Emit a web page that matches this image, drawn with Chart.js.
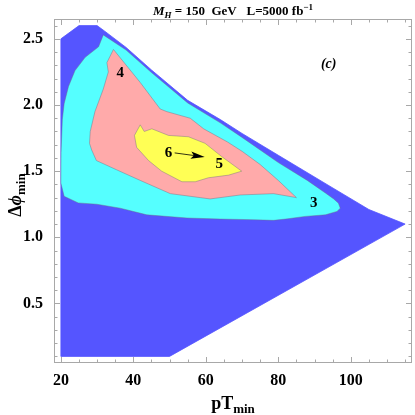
<!DOCTYPE html>
<html>
<head>
<meta charset="utf-8">
<script src="https://cdn.jsdelivr.net/npm/chart.js@4.4.0/dist/chart.umd.min.js"></script>
<style>
  body { margin: 0; background: #fff; }
</style>
</head>
<body>
<canvas id="plot" width="415" height="415"></canvas>
<script>
// axis ticks
const xTicks = [20, 40, 60, 80, 100];
const yTicks = [0.5, 1.0, 1.5, 2.0, 2.5];

// significance regions (pT_min, dphi_min) outlines
const blueX = [20, 20, 25, 30, 32, 38, 45, 55, 64, 70, 80, 94, 105, 115, 50, 20];
const blueY = [0.1, 2.5, 2.6, 2.6, 2.56, 2.435, 2.265, 2.035, 1.89, 1.785, 1.62, 1.39, 1.21, 1.1, 0.1, 0.1];

const cyanX = [31.7, 30.4, 26.7, 23.9, 22.1, 20.9, 20.4, 20.05, 20, 20.9, 24.8, 29.9, 36.4, 43.7, 54.8, 64, 73.2, 78.7, 82.6, 87.4, 93, 96.2, 97.1, 96.6, 95.3, 93, 88, 80, 70, 64, 55, 45, 38, 31.7];
const cyanY = [2.53, 2.44, 2.36, 2.26, 2.14, 2.01, 1.89, 1.64, 1.41, 1.31, 1.26, 1.25, 1.22, 1.17, 1.146, 1.138, 1.133, 1.128, 1.14, 1.158, 1.17, 1.196, 1.22, 1.258, 1.29, 1.335, 1.43, 1.565, 1.755, 1.865, 2.015, 2.245, 2.415, 2.53];

const pinkX = [34.5, 41.9, 47.4, 49.2, 55.7, 59.4, 66, 70, 75, 80, 85, 78.7, 69.5, 61.2, 50.2, 41.9, 35.4, 29.8, 28.5, 27.9, 28.1, 29.4, 31.7, 33.1, 32.7, 34.5];
const pinkY = [2.42, 2.17, 1.97, 1.95, 1.90, 1.82, 1.72, 1.65, 1.55, 1.43, 1.30, 1.33, 1.32, 1.29, 1.33, 1.43, 1.51, 1.58, 1.66, 1.71, 1.80, 1.95, 2.12, 2.25, 2.32, 2.42];

const yellowX = [40.3, 41.9, 43, 45.1, 49.7, 55.2, 59.8, 64.4, 69.9, 66.3, 60.7, 57.1, 53.4, 47.8, 44.2, 40.9, 40.3];
const yellowY = [1.77, 1.85, 1.80, 1.82, 1.77, 1.76, 1.71, 1.61, 1.50, 1.47, 1.45, 1.42, 1.42, 1.50, 1.58, 1.68, 1.77];

// contour labels
const labelText = ['3', '4', '5', '6'];
const labelX = [89.8, 36.4, 63.7, 49.7];
const labelY = [1.26, 2.24, 1.554, 1.635];
const arrowX = [51.4, 59.7];
const arrowY = [1.638, 1.607];

const pts = (xs, ys) => xs.map((x, i) => ({ x: x, y: ys[i] }));
const edge = 'rgba(110,110,130,0.55)';
const serif = '"Liberation Serif", "DejaVu Serif", serif';

function region(xs, ys, color, line, order) {
  return {
    data: pts(xs, ys),
    showLine: true,
    fill: 'shape',
    backgroundColor: color,
    borderColor: line,
    borderWidth: 0.8,
    pointRadius: 0,
    tension: 0,
    order: order
  };
}

// sub/superscript text helper
function drawRuns(ctx, runs, x, y, align) {
  let total = 0;
  runs.forEach(r => { ctx.font = r.font; total += ctx.measureText(r.t).width; });
  let cx = align === 'center' ? x - total / 2 : x;
  ctx.textAlign = 'left';
  ctx.textBaseline = 'alphabetic';
  runs.forEach(r => {
    ctx.font = r.font;
    ctx.fillText(r.t, cx, y + (r.dy || 0));
    cx += ctx.measureText(r.t).width;
  });
}

const decor = {
  id: 'decor',
  afterDatasetsDraw(chart) {
    const ctx = chart.ctx;
    const a = chart.chartArea;
    const xs = chart.scales.x, ys = chart.scales.y;
    ctx.save();

    // frame with inward ticks
    ctx.strokeStyle = '#a8a8a8';
    ctx.lineWidth = 1;
    ctx.strokeRect(a.left + 0.5, a.top + 0.5, a.right - a.left - 1, a.bottom - a.top - 1);
    ctx.beginPath();
    for (let v = 20; v <= 115; v += 5) {
      const p = Math.round(xs.getPixelForValue(v)) + 0.5;
      const len = xTicks.includes(v) ? 6 : 3.5;
      ctx.moveTo(p, a.bottom); ctx.lineTo(p, a.bottom - len);
      ctx.moveTo(p, a.top); ctx.lineTo(p, a.top + len);
    }
    for (let k = 1; k <= 26; k++) {
      const v = k / 10;
      const p = Math.round(ys.getPixelForValue(v)) + 0.5;
      const len = (k % 5 === 0) ? 6 : 3.5;
      ctx.moveTo(a.left, p); ctx.lineTo(a.left + len, p);
      ctx.moveTo(a.right, p); ctx.lineTo(a.right - len, p);
    }
    ctx.stroke();

    // contour labels
    ctx.fillStyle = '#000';
    ctx.font = 'bold 15px ' + serif;
    ctx.textAlign = 'center';
    ctx.textBaseline = 'middle';
    labelText.forEach((t, i) => {
      ctx.fillText(t, xs.getPixelForValue(labelX[i]), ys.getPixelForValue(labelY[i]));
    });
    ctx.font = 'italic bold 14px ' + serif;
    ctx.fillText('(c)', xs.getPixelForValue(93.9), ys.getPixelForValue(2.31));

    // arrow 6 -> 5
    const x0 = xs.getPixelForValue(arrowX[0]), y0 = ys.getPixelForValue(arrowY[0]);
    const x1 = xs.getPixelForValue(arrowX[1]), y1 = ys.getPixelForValue(arrowY[1]);
    const ang = Math.atan2(y1 - y0, x1 - x0);
    ctx.strokeStyle = '#000';
    ctx.lineWidth = 0.8;
    ctx.beginPath(); ctx.moveTo(x0, y0); ctx.lineTo(x1 - 10 * Math.cos(ang), y1 - 10 * Math.sin(ang)); ctx.stroke();
    ctx.translate(x1, y1); ctx.rotate(ang);
    ctx.beginPath(); ctx.moveTo(0, 0); ctx.lineTo(-14, -3.6); ctx.lineTo(-11, 0); ctx.lineTo(-14, 3.6); ctx.closePath(); ctx.fill();
    ctx.setTransform(1, 0, 0, 1, 0, 0);

    // title
    const cx = (a.left + a.right) / 2;
    drawRuns(ctx, [
      { t: 'M', font: 'italic bold 13px ' + serif },
      { t: 'H', font: 'italic bold 9px ' + serif, dy: 3 },
      { t: ' = 150  GeV   L=5000 fb', font: 'bold 13px ' + serif },
      { t: '\u22121', font: 'bold 9px ' + serif, dy: -5 }
    ], cx, 15, 'center');

    // x axis title
    drawRuns(ctx, [
      { t: 'pT', font: 'bold 18px ' + serif },
      { t: 'min', font: 'bold 13px ' + serif, dy: 4 }
    ], cx, 409, 'center');

    // y axis title
    ctx.translate(21, (a.top + a.bottom) / 2 + 4);
    ctx.rotate(-Math.PI / 2);
    drawRuns(ctx, [
      { t: '\u0394', font: 'bold 18px ' + serif },
      { t: '\u03d5', font: 'italic bold 18px ' + serif },
      { t: 'min', font: 'bold 13px ' + serif, dy: 4 }
    ], 0, 0, 'center');
    ctx.restore();
  }
};

new Chart(document.getElementById('plot').getContext('2d'), {
  type: 'scatter',
  data: {
    datasets: [
      region(blueX, blueY, '#5555ff', '#5555ff', 4),
      region(cyanX, cyanY, '#55ffff', edge, 3),
      region(pinkX, pinkY, '#ffaaaa', edge, 2),
      region(yellowX, yellowY, '#ffff55', edge, 1)
    ]
  },
  options: {
    responsive: false,
    animation: false,
    layout: { padding: { top: 19, right: 3, left: 0, bottom: 0 } },
    plugins: { legend: { display: false }, tooltip: { enabled: false }, title: { display: false } },
    scales: {
      x: {
        type: 'linear', min: 18.1, max: 116.9,
        grid: { display: false },
        border: { display: false },
        afterFit: s => { s.height = 52; },
        afterBuildTicks: s => { s.ticks = xTicks.map(v => ({ value: v })); },
        ticks: { color: '#000', padding: 0, font: { family: serif, size: 16, weight: 'bold' } }
      },
      y: {
        type: 'linear', min: 0.05, max: 2.65,
        grid: { display: false },
        border: { display: false },
        afterFit: s => { s.width = 54; },
        afterBuildTicks: s => { s.ticks = yTicks.map(v => ({ value: v })); },
        ticks: { color: '#000', padding: 3, font: { family: serif, size: 16, weight: 'bold' },
                 callback: v => v.toFixed(1) }
      }
    }
  },
  plugins: [decor]
});
</script>
</body>
</html>
